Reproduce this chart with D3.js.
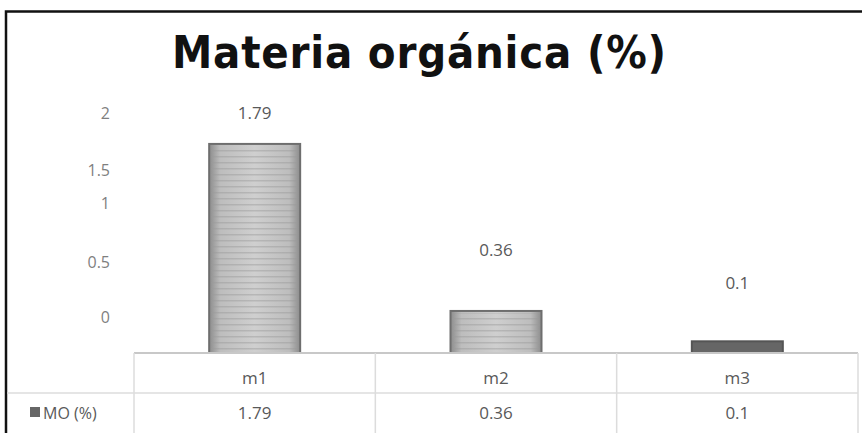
<!DOCTYPE html>
<html>
<head>
<meta charset="utf-8">
<script src="https://cdn.jsdelivr.net/npm/d3@7"></script>
<style>
  body { margin: 0; background: #fff; }
  text { font-family: "Open Sans", "Noto Sans", sans-serif; }
  .title { font-family: "Liberation Sans Narrow", "DejaVu Sans Condensed", sans-serif; }
</style>
</head>
<body>
<div id="chart"></div>
<script>
var categories = ["m1", "m2", "m3"];
var values = [1.79, 0.36, 0.1];
var valueLabels = ["1.79", "0.36", "0.1"];
var yTicks = [0, 0.5, 1, 1.5, 2];
var yTickLabels = ["0", "0.5", "1", "1.5", "2"];
var seriesName = "MO (%)";
var title = "Materia orgánica (%)";

var svgWidth = 862;
var svgHeight = 433;

var plot = { left: 134, right: 858, base: 353 };
var rowH = 40;

var svg = d3.select("#chart").append("svg")
  .attr("width", svgWidth)
  .attr("height", svgHeight);

var defs = svg.append("defs");

// bar fill: light gray with a soft horizontal shade and fine stripes
var grad = defs.append("linearGradient").attr("id", "barShade")
  .attr("x1", "0").attr("x2", "1").attr("y1", "0").attr("y2", "0");
grad.append("stop").attr("offset", "0").attr("stop-color", "#8c8c8c");
grad.append("stop").attr("offset", "0.12").attr("stop-color", "#bdbdbd");
grad.append("stop").attr("offset", "0.5").attr("stop-color", "#cfcfcf");
grad.append("stop").attr("offset", "0.88").attr("stop-color", "#bdbdbd");
grad.append("stop").attr("offset", "1").attr("stop-color", "#8c8c8c");

var stripes = defs.append("pattern").attr("id", "barStripes")
  .attr("patternUnits", "userSpaceOnUse")
  .attr("width", 10).attr("height", 6);
stripes.append("rect").attr("width", 10).attr("height", 1.5)
  .attr("fill", "#9a9a9a").attr("opacity", 0.45);

// scales
var xScale = d3.scaleBand()
  .domain(categories)
  .range([plot.left, plot.right])
  .paddingInner(0)
  .paddingOuter(0);

var yScale = d3.scaleLinear()
  .domain([0, 2])
  .range([plot.base, plot.base - 2 * 116.8]);

// tick labels in the picture sit off their gridline positions
var yLabelScale = d3.scaleLinear()
  .domain([0, 0.5, 1, 1.5, 2])
  .range([317, 262, 203, 170, 113]);

// frame
svg.append("path")
  .attr("d", "M6,436 L6,11.5 L866,11.5")
  .attr("fill", "none")
  .attr("stroke", "#111")
  .attr("stroke-width", 2.5);

// title
svg.append("text")
  .attr("class", "title")
  .attr("x", 419)
  .attr("y", 68)
  .attr("text-anchor", "middle")
  .attr("font-size", "45px")
  .attr("font-weight", "bold")
  .attr("fill", "#111")
  .attr("textLength", 494)
  .attr("lengthAdjust", "spacing")
  .text(title);

// y tick labels
svg.append("g").selectAll("text")
  .data(yTicks)
  .enter()
  .append("text")
  .attr("x", 110)
  .attr("y", d => yLabelScale(d))
  .attr("dy", "0.35em")
  .attr("text-anchor", "end")
  .attr("font-size", "16px")
  .attr("fill", "#7f7f7f")
  .text((d, i) => yTickLabels[i]);

// bars
var barW = 91;
var bars = svg.append("g");
bars.selectAll("rect.bar")
  .data(values)
  .enter()
  .append("rect")
  .attr("class", "bar")
  .attr("x", (d, i) => xScale(categories[i]) + xScale.bandwidth() / 2 - barW / 2)
  .attr("y", d => yScale(d))
  .attr("width", barW)
  .attr("height", d => yScale(0) - yScale(d))
  .attr("fill", (d, i) => i == 2 ? "#666" : "url(#barShade)")
  .attr("stroke", (d, i) => i == 2 ? "#555" : "#6e6e6e")
  .attr("stroke-width", 2);
bars.selectAll("rect.stripe")
  .data(values.slice(0, 2))
  .enter()
  .append("rect")
  .attr("class", "stripe")
  .attr("x", (d, i) => xScale(categories[i]) + xScale.bandwidth() / 2 - barW / 2 + 2)
  .attr("y", d => yScale(d) + 2)
  .attr("width", barW - 4)
  .attr("height", d => yScale(0) - yScale(d) - 4)
  .attr("fill", "url(#barStripes)");

// data labels
var labelLift = [31, 61, 58];
svg.append("g").selectAll("text")
  .data(values)
  .enter()
  .append("text")
  .attr("x", (d, i) => xScale(categories[i]) + xScale.bandwidth() / 2)
  .attr("y", (d, i) => yScale(d) - labelLift[i])
  .attr("dy", "0.35em")
  .attr("text-anchor", "middle")
  .attr("font-size", "17px")
  .attr("fill", "#595959")
  .text((d, i) => valueLabels[i]);

// data table
var table = svg.append("g").attr("fill", "none");
table.append("line")
  .attr("x1", plot.left).attr("x2", plot.right)
  .attr("y1", plot.base).attr("y2", plot.base)
  .attr("stroke", "#c8c8c8").attr("stroke-width", 2);
table.append("line")
  .attr("x1", 7).attr("x2", plot.right)
  .attr("y1", plot.base + rowH).attr("y2", plot.base + rowH)
  .attr("stroke", "#dcdcdc").attr("stroke-width", 1.5);
table.selectAll("line.sep")
  .data([plot.left].concat(categories.map(c => xScale(c) + xScale.bandwidth())))
  .enter()
  .append("line")
  .attr("class", "sep")
  .attr("x1", d => d).attr("x2", d => d)
  .attr("y1", plot.base).attr("y2", svgHeight)
  .attr("stroke", "#dcdcdc").attr("stroke-width", 1.5);

svg.append("g").selectAll("text")
  .data(categories)
  .enter()
  .append("text")
  .attr("x", d => xScale(d) + xScale.bandwidth() / 2)
  .attr("y", plot.base + rowH / 2 + 5)
  .attr("dy", "0.35em")
  .attr("text-anchor", "middle")
  .attr("font-size", "17px")
  .attr("fill", "#595959")
  .text(d => d);

svg.append("g").selectAll("text")
  .data(values)
  .enter()
  .append("text")
  .attr("x", (d, i) => xScale(categories[i]) + xScale.bandwidth() / 2)
  .attr("y", plot.base + rowH + rowH / 2)
  .attr("dy", "0.35em")
  .attr("text-anchor", "middle")
  .attr("font-size", "17px")
  .attr("fill", "#595959")
  .text((d, i) => valueLabels[i]);

// legend key inside the table
svg.append("rect")
  .attr("x", 30).attr("y", 407)
  .attr("width", 10).attr("height", 10)
  .attr("fill", "#666");
svg.append("text")
  .attr("x", 43)
  .attr("y", plot.base + rowH + rowH / 2)
  .attr("dy", "0.35em")
  .attr("font-size", "16px")
  .attr("fill", "#595959")
  .text(seriesName);
</script>
</body>
</html>
